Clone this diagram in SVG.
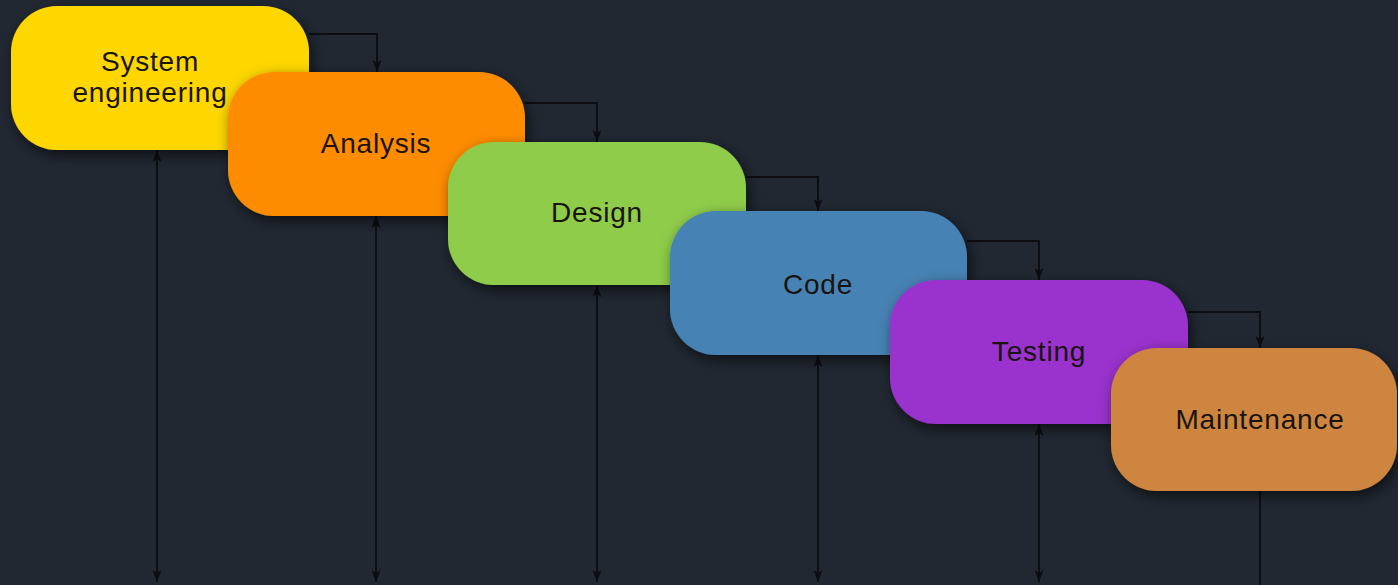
<svg xmlns="http://www.w3.org/2000/svg" width="1398" height="585" viewBox="0 0 1398 585">
<style>
.box{stroke:none;filter:url(#sh)}
.lbl{font-family:"Liberation Sans",Arial,sans-serif;font-size:28px;letter-spacing:0.8px;fill:#1a1410;text-anchor:middle}
.c{fill:none;stroke:#0b0d10;stroke-width:1.8}
</style>
<defs>
<filter id="sh" x="-20%" y="-20%" width="140%" height="150%">
<feDropShadow dx="3" dy="5" stdDeviation="7" flood-color="#000" flood-opacity="0.6"/>
</filter>
<marker id="ah" viewBox="0 0 12 9" refX="12" refY="4.5" markerWidth="12" markerHeight="9" orient="auto-start-reverse" markerUnits="userSpaceOnUse">
<path d="M0,0 L12,4.5 L0,9 L3,4.5 z" fill="#0b0d10"/>
</marker>
</defs>
<rect width="1398" height="585" fill="#212832"/>
<g id="connectors">
<path class="c" d="M309,34 H377 V72" marker-end="url(#ah)"/>
<path class="c" d="M525,103 H597 V142" marker-end="url(#ah)"/>
<path class="c" d="M746,177 H818 V211" marker-end="url(#ah)"/>
<path class="c" d="M967,241 H1039 V280" marker-end="url(#ah)"/>
<path class="c" d="M1188,312 H1260 V348" marker-end="url(#ah)"/>
<path class="c" d="M157,150 V582" marker-start="url(#ah)" marker-end="url(#ah)"/>
<path class="c" d="M376,216 V582" marker-start="url(#ah)" marker-end="url(#ah)"/>
<path class="c" d="M597,285 V582" marker-start="url(#ah)" marker-end="url(#ah)"/>
<path class="c" d="M818,355 V582" marker-start="url(#ah)" marker-end="url(#ah)"/>
<path class="c" d="M1039,424 V582" marker-start="url(#ah)" marker-end="url(#ah)"/>
<path class="c" d="M1260,491 V585"/>
</g>
<g id="system-engineering">
<rect class="box" x="11" y="6" width="298" height="144" rx="46" fill="#FED700"/>
<text class="lbl" x="150" y="71">System</text>
<text class="lbl" x="150" y="102">engineering</text>
</g>
<g id="analysis">
<rect class="box" x="228" y="72" width="297" height="144" rx="46" fill="#FE8C00"/>
<text class="lbl" x="376" y="153">Analysis</text>
</g>
<g id="design">
<rect class="box" x="448" y="142" width="298" height="143" rx="46" fill="#8FCC4A"/>
<text class="lbl" x="597" y="222">Design</text>
</g>
<g id="code">
<rect class="box" x="670" y="211" width="297" height="144" rx="46" fill="#4682B4"/>
<text class="lbl" x="818" y="294">Code</text>
</g>
<g id="testing">
<rect class="box" x="890" y="280" width="298" height="144" rx="46" fill="#9A32CD"/>
<text class="lbl" x="1039" y="361">Testing</text>
</g>
<g id="maintenance">
<rect class="box" x="1111" y="348" width="286" height="143" rx="46" fill="#CD853F"/>
<text class="lbl" x="1260" y="429">Maintenance</text>
</g>
</svg>
